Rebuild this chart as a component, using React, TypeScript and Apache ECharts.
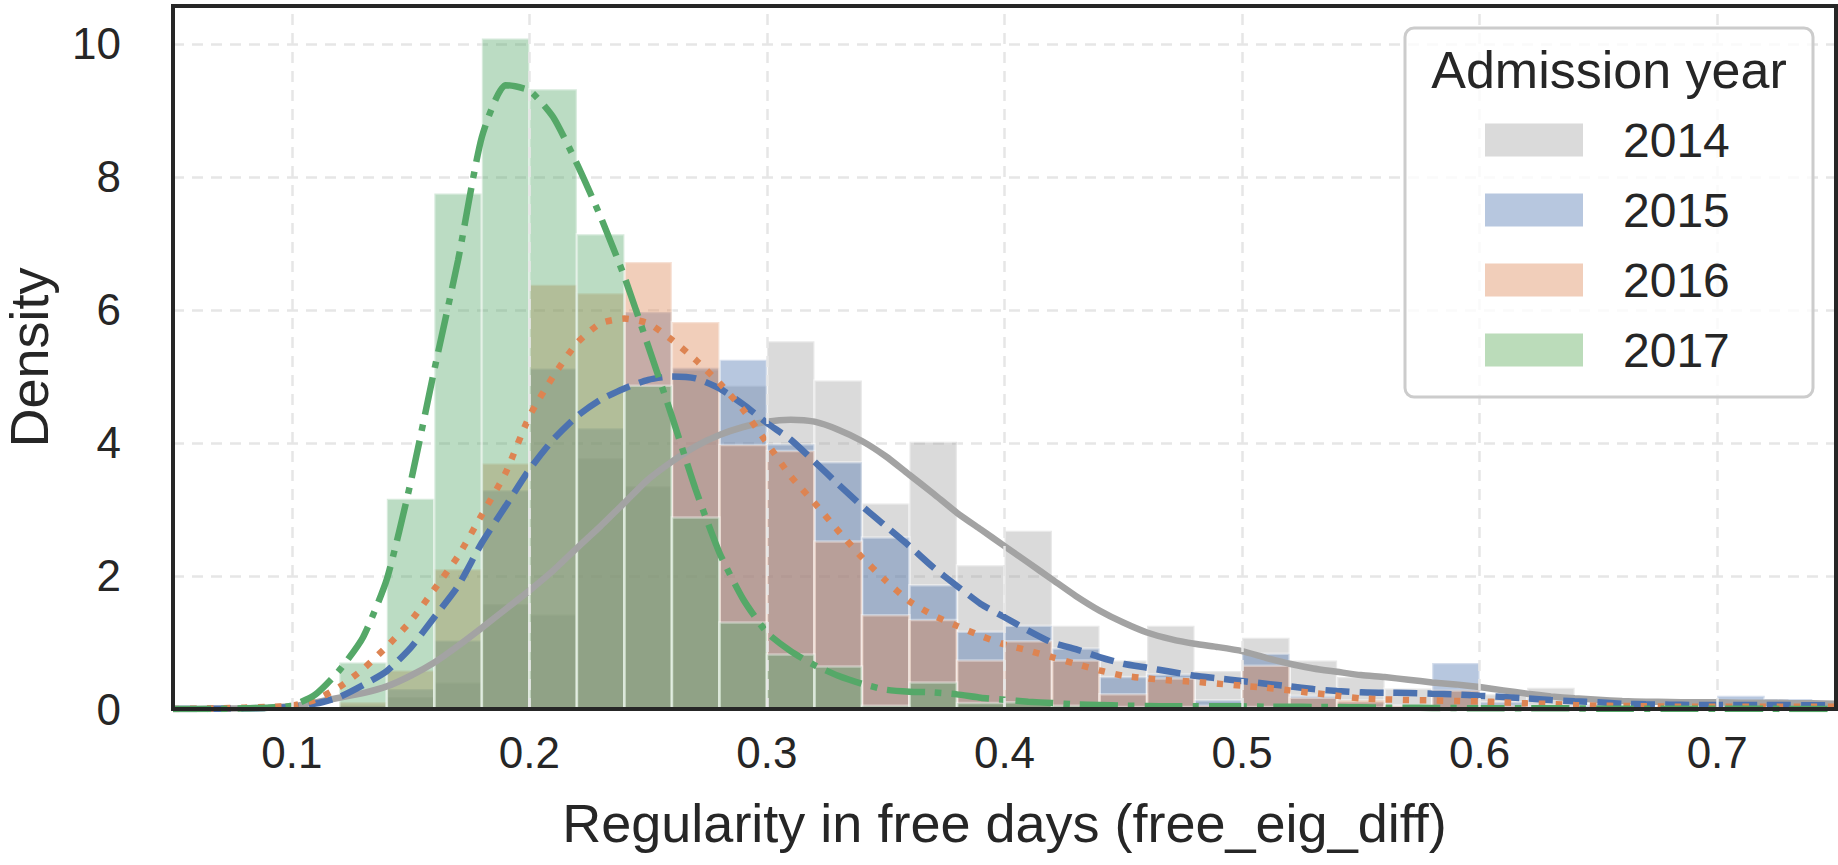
import React, { useEffect, useRef } from "react";
import * as echarts from "echarts";

// ---------------- data ----------------
const years = ["2014", "2015", "2016", "2017"];

// histogram bin edges (bin width 0.02)
const binEdges = [
  0.12, 0.14, 0.16, 0.18, 0.2, 0.22, 0.24, 0.26, 0.28, 0.3, 0.32,
  0.34, 0.36, 0.38, 0.4, 0.42, 0.44, 0.46, 0.48, 0.5, 0.52,
  0.54, 0.56, 0.58, 0.6, 0.62, 0.64, 0.66, 0.68, 0.7, 0.72, 0.74,
];

// density per bin
const hist2014 = [
  0.05, 0.18, 0.4, 1.58, 1.42, 3.77, 3.35, 5.1, 4.86, 5.53,
  4.94, 3.09, 4.02, 2.16, 2.68, 1.25, 0.73, 1.25, 0.57, 1.07,
  0.73, 0.48, 0.31, 0.3, 0.22, 0.32, 0.08, 0.05, 0.05, 0.1, 0.12,
];
const hist2015 = [
  0.05, 0.3, 1.03, 3.29, 5.12, 4.22, 5.97, 5.13, 5.25, 3.98,
  3.71, 2.58, 1.86, 1.16, 1.25, 0.91, 0.48, 0.52, 0.13, 0.83,
  0.2, 0.1, 0.05, 0.69, 0.1, 0.05, 0.05, 0.03, 0.02, 0.2, 0.15,
];
const hist2016 = [
  0.1, 0.58, 2.1, 3.69, 6.38, 6.25, 6.72, 5.82, 3.97, 3.88,
  2.52, 1.41, 1.34, 0.73, 1.02, 0.73, 0.22, 0.46, 0.05, 0.65,
  0.17, 0.13, 0.05, 0.28, 0.05, 0.03, 0.02, 0.02, 0.0, 0.05, 0.03,
];
const hist2017 = [
  0.7, 3.16, 7.75, 10.08, 9.32, 7.14, 4.86, 2.88, 1.3, 0.82,
  0.64, 0.05, 0.4, 0.09, 0.1, 0.05, 0.03, 0.03, 0.0, 0.03,
  0.0, 0.02, 0.0, 0.0, 0.0, 0.0, 0.0, 0.0, 0.0, 0.0, 0.0,
];

// KDE evaluation points
const kdeX = [
  0.05, 0.06, 0.07, 0.08, 0.09, 0.1, 0.11, 0.12, 0.13, 0.14,
  0.15, 0.16, 0.17, 0.18, 0.19, 0.2, 0.21, 0.22, 0.23, 0.24,
  0.25, 0.26, 0.27, 0.28, 0.29, 0.3, 0.31, 0.32, 0.33, 0.34,
  0.35, 0.36, 0.37, 0.38, 0.39, 0.4, 0.41, 0.42, 0.43, 0.44,
  0.45, 0.46, 0.47, 0.48, 0.49, 0.5, 0.51, 0.52, 0.53, 0.54,
  0.55, 0.56, 0.57, 0.58, 0.59, 0.6, 0.61, 0.62, 0.63, 0.64,
  0.65, 0.66, 0.67, 0.68, 0.69, 0.7, 0.71, 0.72, 0.73, 0.74,
  0.75,
];
const kde2014 = [
  0, 0, 0.005, 0.01, 0.02, 0.04, 0.1, 0.17, 0.24, 0.34,
  0.5, 0.7, 0.95, 1.22, 1.5, 1.78, 2.08, 2.42, 2.75, 3.1,
  3.45, 3.72, 3.95, 4.12, 4.24, 4.32, 4.35, 4.32, 4.2, 4.03,
  3.8, 3.52, 3.24, 2.95, 2.7, 2.45, 2.2, 1.95, 1.7, 1.48,
  1.3, 1.15, 1.05, 0.98, 0.93, 0.87, 0.77, 0.68, 0.61, 0.56,
  0.51, 0.48, 0.44, 0.4, 0.37, 0.33, 0.28, 0.23, 0.19, 0.16,
  0.14, 0.12, 0.11, 0.105, 0.1, 0.1, 0.095, 0.095, 0.09, 0.085,
  0.08,
];
const kde2015 = [
  0, 0, 0.005, 0.01, 0.015, 0.03, 0.08, 0.18, 0.36, 0.57,
  0.92, 1.38, 1.85, 2.5, 3.05, 3.6, 4.05, 4.4, 4.65, 4.82,
  4.95, 5.0, 4.97, 4.82, 4.58, 4.3, 4.05, 3.72, 3.38, 3.05,
  2.75, 2.45, 2.13, 1.85, 1.58, 1.38, 1.18, 1.0, 0.9, 0.78,
  0.68, 0.62, 0.56, 0.5, 0.46, 0.42, 0.38, 0.34, 0.3, 0.27,
  0.25, 0.245, 0.24, 0.23, 0.22, 0.2, 0.18, 0.16, 0.135, 0.115,
  0.1, 0.08, 0.07, 0.065, 0.06, 0.06, 0.06, 0.06, 0.06, 0.055,
  0.055,
];
const kde2016 = [
  0, 0.005, 0.01, 0.02, 0.03, 0.05, 0.14, 0.33, 0.6, 0.94,
  1.32, 1.8, 2.3, 2.92, 3.55, 4.4, 5.0, 5.5, 5.8, 5.87,
  5.8, 5.55, 5.25, 4.9, 4.5, 4.0, 3.5, 3.1, 2.68, 2.28,
  1.93, 1.62, 1.41, 1.25, 1.1, 0.97, 0.88, 0.78, 0.68, 0.58,
  0.5, 0.46, 0.43, 0.41, 0.38, 0.35, 0.32, 0.28, 0.24, 0.2,
  0.16, 0.145, 0.135, 0.13, 0.12, 0.115, 0.1, 0.085, 0.075, 0.06,
  0.05, 0.045, 0.04, 0.035, 0.035, 0.035, 0.035, 0.035, 0.035, 0.035,
  0.035,
];
const kde2017 = [
  0, 0, 0, 0.01, 0.02, 0.05, 0.22, 0.58, 1.08, 1.95,
  3.4, 5.1, 6.75, 8.6, 9.38, 9.3, 8.9, 8.2, 7.4, 6.5,
  5.46, 4.4, 3.3, 2.35, 1.65, 1.15, 0.87, 0.66, 0.5, 0.38,
  0.29, 0.26, 0.25, 0.22, 0.17, 0.14, 0.11, 0.09, 0.07, 0.06,
  0.05, 0.045, 0.04, 0.04, 0.04, 0.04, 0.035, 0.035, 0.03, 0.03,
  0.025, 0.02, 0.02, 0.015, 0.015, 0.01, 0.01, 0.01, 0.01, 0.01,
  0.005, 0.005, 0.005, 0.005, 0.005, 0.005, 0.005, 0.005, 0, 0,
  0,
];

const xTicks = [0.1, 0.2, 0.3, 0.4, 0.5, 0.6, 0.7];
const yTicks = [0, 2, 4, 6, 8, 10];

// ---------------- styles ----------------
const FONT = "'Liberation Sans', Arial, Helvetica, sans-serif";
const TEXT = "#262626";
const GRID_LINE = "#e6e6e6";
const colors: Record<string, string> = {
  "2014": "#a3a3a3",
  "2015": "#4c72b0",
  "2016": "#dd8452",
  "2017": "#55a868",
};
const legendPatch: Record<string, string> = {
  "2014": "#dadada",
  "2015": "#b7c7df",
  "2016": "#f1ceba",
  "2017": "#bbdcba",
};
const LW = 6.5;
const dashes: Record<string, any> = {
  "2014": "solid",
  "2015": [24, 10],
  "2016": [6.5, 10.5],
  "2017": [38, 10, 6.5, 10],
};

const histByYear: Record<string, number[]> = {
  "2014": hist2014,
  "2015": hist2015,
  "2016": hist2016,
  "2017": hist2017,
};
const kdeByYear: Record<string, number[]> = {
  "2014": kde2014,
  "2015": kde2015,
  "2016": kde2016,
  "2017": kde2017,
};

function histSeries(year: string) {
  const vals = histByYear[year];
  const color = colors[year];
  return {
    name: year,
    type: "custom",
    z: 2,
    clip: true,
    encode: { x: [0, 1], y: 2 },
    itemStyle: { color },
    data: vals.map((v, i) => [binEdges[i], binEdges[i + 1], v]),
    renderItem: (params: any, api: any) => {
      const p0 = api.coord([api.value(0), api.value(2)]);
      const p1 = api.coord([api.value(1), 0]);
      return {
        type: "rect",
        shape: { x: p0[0], y: p0[1], width: p1[0] - p0[0], height: p1[1] - p0[1] },
        style: { fill: color, stroke: "#ffffff", lineWidth: 2.5, opacity: 0.4 },
      };
    },
  };
}

function kdeSeries(year: string) {
  const vals = kdeByYear[year];
  return {
    name: year + " KDE",
    type: "line",
    z: 3,
    smooth: 0.2,
    showSymbol: false,
    symbol: "none",
    clip: true,
    lineStyle: { color: colors[year], width: LW, type: dashes[year], cap: "butt" },
    data: kdeX.map((x, i) => [x, vals[i]]),
  };
}

export default function App() {
  const ref = useRef<HTMLDivElement>(null);

  useEffect(() => {
    if (!ref.current) return;
    const chart = echarts.init(ref.current, null, { renderer: "svg" });

    const option: any = {
      animation: false,
      backgroundColor: "#ffffff",
      textStyle: { fontFamily: FONT, color: TEXT },
      grid: {
        left: 173,
        right: 2,
        top: 6,
        bottom: 156,
        show: true,
        z: 10,
        backgroundColor: "transparent",
        borderColor: "#262626",
        borderWidth: 4,
        containLabel: false,
        outerBoundsMode: "none",
      },
      xAxis: {
        type: "value",
        min: 0.05,
        max: 0.75,
        interval: 0.05,
        axisLine: { show: false },
        axisTick: { show: false },
        splitLine: { show: false },
        axisLabel: {
          fontSize: 44,
          color: TEXT,
          fontFamily: FONT,
          margin: 21,
          formatter: (v: number) => {
            const k = Math.round(v * 100);
            return k % 10 === 0 ? (k / 100).toFixed(1) : "";
          },
        },
        name: "Regularity in free days (free_eig_diff)",
        nameLocation: "middle",
        nameGap: 87,
        nameTextStyle: { fontSize: 54, color: TEXT, fontFamily: FONT },
      },
      yAxis: {
        type: "value",
        min: 0,
        max: 10.57,
        interval: 2,
        axisLine: { show: false },
        axisTick: { show: false },
        splitLine: { show: true, lineStyle: { color: GRID_LINE, width: 2.5, type: [11, 8] } },
        axisLabel: {
          fontSize: 44,
          color: TEXT,
          fontFamily: FONT,
          margin: 52,
          formatter: (v: number) => (yTicks.indexOf(v) >= 0 ? String(v) : ""),
        },
        name: "Density",
        nameLocation: "middle",
        nameRotate: 90,
        nameGap: 117,
        nameTextStyle: { fontSize: 54, color: TEXT, fontFamily: FONT },
      },
      legend: {
        show: true,
        z: 12,
        orient: "vertical",
        left: 1485,
        top: 116,
        padding: 0,
        itemWidth: 98,
        itemHeight: 33,
        itemGap: 22,
        icon: "rect",
        selectedMode: false,
        textStyle: { fontSize: 48, color: TEXT, fontFamily: FONT, padding: [0, 0, 0, 35] },
        data: years.map((y) => ({
          name: y,
          icon: "rect",
          itemStyle: { color: legendPatch[y], borderWidth: 0, opacity: 1 },
        })),
      },
      graphic: [
        {
          type: "rect",
          z: 11,
          silent: true,
          shape: { x: 1405, y: 28, width: 408, height: 369, r: 9 },
          style: { fill: "rgba(255,255,255,0.8)", stroke: "#cccccc", lineWidth: 3 },
        },
        {
          type: "text",
          z: 12,
          silent: true,
          x: 1609,
          y: 70,
          style: {
            text: "Admission year",
            fontSize: 52,
            fontFamily: FONT,
            fill: TEXT,
            textAlign: "center",
            textVerticalAlign: "middle",
          },
        },
      ],
      series: [
        {
          name: "grid-x",
          type: "line",
          z: 1,
          data: [],
          silent: true,
          markLine: {
            silent: true,
            symbol: "none",
            label: { show: false },
            lineStyle: { color: GRID_LINE, width: 2.5, type: [11, 8] },
            data: xTicks.map((v) => ({ xAxis: v })),
          },
        },
        histSeries("2014"),
        histSeries("2015"),
        histSeries("2016"),
        histSeries("2017"),
        kdeSeries("2014"),
        kdeSeries("2015"),
        kdeSeries("2016"),
        kdeSeries("2017"),
      ],
    };

    chart.setOption(option);
    return () => chart.dispose();
  }, []);

  return (
    <div
      ref={ref}
      style={{ position: "fixed", left: 0, top: 0, width: 1838, height: 865, background: "#fff" }}
    />
  );
}
